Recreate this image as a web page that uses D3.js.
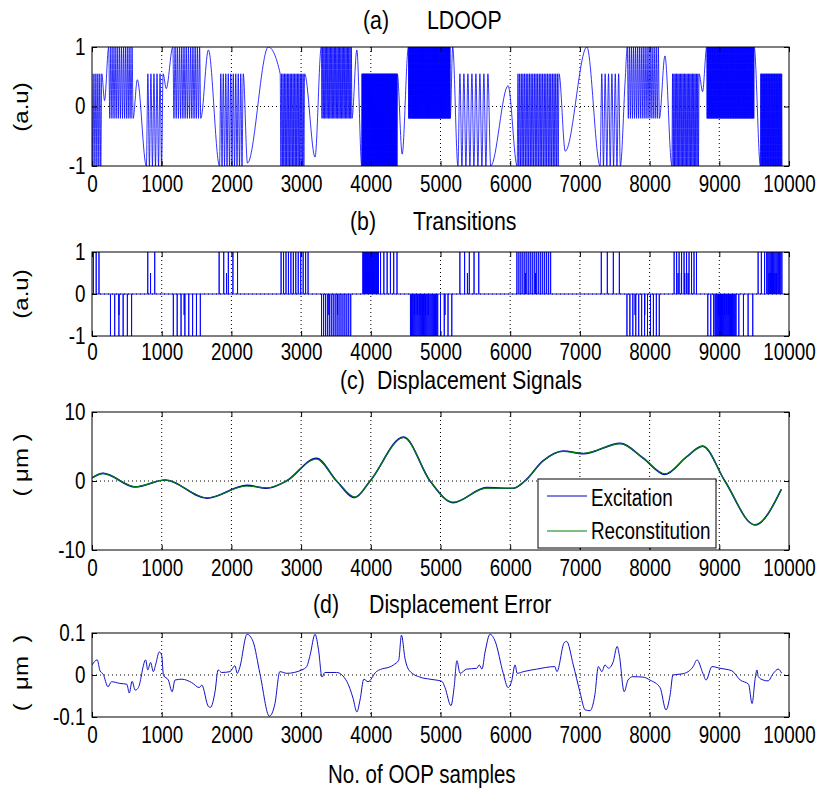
<!DOCTYPE html>
<html>
<head>
<meta charset="utf-8">
<script src="https://cdn.jsdelivr.net/npm/d3@7"></script>
<style>
  body { margin: 0; background: #fff; }
  text { font-family: "Liberation Sans", Arial, sans-serif; fill: #000; }
</style>
</head>
<body>
<svg id="fig" width="820" height="789"></svg>
<script>
// ---------- data ----------
const xTicks = [0, 1000, 2000, 3000, 4000, 5000, 6000, 7000, 8000, 9000, 10000];
const xGrid = [1000, 2000, 3000, 4000, 5000, 6000, 7000, 8000, 9000];

// (a) LDOOP: oscillation bursts [start, end, low, high, halfCycles, startsHigh]
const ldoopBursts = [
  [0, 140, -1, 0.55, 10, 1],
  [240, 590, -0.2, 1, 23, 1],
  [780, 1020, -1, 0.55, 11, 0],
  [1160, 1560, -0.2, 1, 25, 1],
  [1830, 2170, -1, 0.55, 19, 0],
  [2700, 3050, -1, 0.55, 34, 1],
  [3290, 3730, -0.2, 1, 47, 1],
  [3870, 4380, -1, 0.55, 141, 0],
  [4540, 5140, -0.2, 1, 161, 1],
  [5250, 5680, -1, 0.55, 15, 0],
  [6100, 6700, -1, 0.55, 51, 0],
  [7290, 7580, -1, 0.55, 12, 0],
  [7680, 8140, -0.2, 1, 31, 1],
  [8320, 8710, -1, 0.55, 41, 0],
  [8820, 9500, -0.2, 1, 150, 1],
  [9590, 9900, -1, 0.55, 60, 0]
];
// (a) LDOOP: slow swings between the bursts [sample, value]
const ldoopKnots = [
  [180, 0.1], [650, 0.45], [1065, 0.3], [1670, 0.95], [2230, -0.95], [2530, 1],
  [3200, -0.85], [3800, 0.95], [4450, -0.8], [5175, 1], [5720, -1], [5970, 0.35],
  [6790, -0.75], [7100, 1], [7650, 0.45], [8220, 0.85], [8760, 0.25]
];

// (b) Transitions: spike clusters [start, end, sign, fullSpikes, halfSpikes]
const transitionClusters = [
  [20, 100, 1, 3, 0], [800, 900, 1, 2, 1], [1824, 2088, 1, 5, 1], [2713, 3100, 1, 12, 0],
  [3886, 4110, 1, 24, 8], [4140, 4376, 1, 6, 0], [5278, 5549, 1, 5, 1], [6096, 6580, 1, 18, 2],
  [7307, 7566, 1, 4, 0], [8352, 8673, 1, 10, 4], [9557, 9650, 1, 3, 0], [9680, 9898, 1, 14, 6],
  [265, 568, -1, 6, 1], [1167, 1554, -1, 8, 1], [3293, 3712, -1, 16, 2],
  [4569, 4960, -1, 26, 6], [5000, 5162, -1, 4, 1], [7675, 8139, -1, 12, 2],
  [8835, 8920, -1, 3, 0], [8940, 9240, -1, 24, 6], [9280, 9480, -1, 4, 0]
];

// (c) Excitation displacement [sample, µm]
const excitation = [
  [0, 0.45], [160, 1.1], [620, -0.87], [1050, 0.14], [1650, -2.5], [2220, -0.63],
  [2510, -1.06], [2790, 0], [3220, 3.28], [3510, 0], [3770, -2.4], [3990, 0],
  [4470, 6.36], [4850, 0], [5180, -3.13], [5660, -0.96], [6040, -1.06], [6210, 0],
  [6470, 2.9], [6760, 4.34], [7050, 3.95], [7580, 5.45], [7910, 3.3], [8220, 0.96],
  [8530, 3.5], [8760, 5.06], [9080, 0], [9510, -6.36], [9890, -1.2]
];

// (d) Displacement error [sample, µm]
const dispError = [
  [0, 0.024], [75, 0.036], [115, 0.01], [160, 0.002], [230, -0.028], [280, -0.016], [400, -0.02],
  [500, -0.022], [535, -0.043], [575, -0.015], [620, -0.036], [665, -0.03], [770, 0.036],
  [800, 0.012], [840, 0.03], [880, 0.008], [915, 0.026], [965, 0.055], [1000, 0.047],
  [1025, -0.001], [1095, -0.012], [1150, -0.04], [1190, -0.012], [1290, -0.01], [1430, -0.018],
  [1540, -0.03], [1575, -0.024], [1670, -0.075], [1700, -0.077], [1765, -0.04], [1810, 0.012],
  [1860, 0.006], [1980, 0.008], [2050, 0.022], [2085, 0.004], [2120, 0.018], [2225, 0.097],
  [2310, 0.08], [2410, 0.003], [2545, -0.098], [2625, -0.068], [2695, 0.008], [2795, 0.004],
  [3010, 0.012], [3080, 0.02], [3130, 0.048], [3200, 0.097], [3250, 0.06], [3300, -0.005],
  [3340, 0.006], [3510, 0.006], [3655, -0.015], [3745, -0.055], [3800, -0.088], [3845, -0.06],
  [3900, -0.01], [3960, -0.016], [4080, 0.008], [4325, 0.024], [4400, 0.035], [4440, 0.095],
  [4490, 0.04], [4555, 0.01], [4705, -0.005], [4850, -0.01], [5020, -0.015], [5065, -0.03],
  [5150, -0.073], [5195, -0.03], [5235, 0.034], [5280, 0.004], [5375, 0.014], [5520, 0.016],
  [5555, 0.024], [5595, 0.014], [5640, 0.055], [5710, 0.097], [5785, 0.08], [5900, 0.004],
  [5970, -0.03], [6020, -0.015], [6070, 0.024], [6100, 0.004], [6190, 0.008], [6380, 0.014],
  [6640, 0.02], [6670, 0.008], [6775, 0.077], [6810, 0.08], [6905, 0.024], [7000, -0.04],
  [7075, -0.083], [7145, -0.085], [7215, -0.047], [7265, 0.02], [7315, 0.008], [7360, 0.024],
  [7410, 0.016], [7475, 0.03], [7535, 0.068], [7565, 0.048], [7635, -0.04], [7690, -0.012],
  [7760, -0.004], [7905, -0.005], [8005, -0.012], [8150, -0.03], [8235, -0.083], [8295, -0.047],
  [8335, 0], [8480, 0.003], [8625, 0.02], [8680, 0.036], [8765, 0.004], [8810, -0.012],
  [8895, 0.02], [9010, 0.016], [9180, 0.01], [9300, -0.012], [9420, -0.022], [9470, -0.068],
  [9515, -0.008], [9540, 0.012], [9560, -0.004], [9630, -0.012], [9700, -0.014], [9775, 0.004],
  [9845, 0.014], [9895, 0.004]
];

// ---------- layout ----------
const svg = d3.select("#fig");
const X0 = 92, X1 = 789;
const SX = 0.82;            // horizontal squeeze of all lettering
const TICK_FS = 23, TITLE_FS = 26, LABEL_FS = 24;
const BLUE = "#0000ff", GREEN = "#008000";

const x = d3.scaleLinear().domain([0, 10000]).range([X0, X1]);

function addText(g, px, py, str, size, anchor = "start", rotate = false) {
  return g.append("text")
    .attr("transform", `translate(${px},${py}) scale(${SX},1)` + (rotate ? " rotate(-90)" : ""))
    .attr("text-anchor", anchor)
    .attr("font-size", size)
    .style("white-space", "pre")
    .text(str);
}

function makePanel(top, bottom, yDomain) {
  const y = d3.scaleLinear().domain(yDomain).range([bottom, top]);
  const g = svg.append("g");
  const clipId = "clip" + top;
  svg.append("clipPath").attr("id", clipId)
    .append("rect").attr("x", X0).attr("y", top).attr("width", X1 - X0).attr("height", bottom - top);

  // dotted grid
  const grid = g.append("g").attr("stroke", "#000").attr("stroke-width", 1)
    .attr("stroke-dasharray", "1,3").attr("fill", "none");
  xGrid.forEach(v => grid.append("line").attr("x1", x(v)).attr("x2", x(v)).attr("y1", top).attr("y2", bottom));
  grid.append("line").attr("x1", X0).attr("x2", X1).attr("y1", y(0)).attr("y2", y(0));

  const plot = g.append("g").attr("clip-path", `url(#${clipId})`);
  const over = svg.append("g");
  return { g, plot, over, y, top, bottom };
}

function finishPanel(p, yTicks, pad = 10) {
  const fmt = d => String(d);
  const bot = p.over.append("g").attr("transform", `translate(0,${p.bottom})`)
    .call(d3.axisBottom(x).tickValues(xTicks).tickSize(-5).tickSizeOuter(0).tickPadding(pad).tickFormat(fmt));
  const topAx = p.over.append("g").attr("transform", `translate(0,${p.top})`)
    .call(d3.axisTop(x).tickValues(xTicks).tickSize(-5).tickSizeOuter(0).tickFormat(""));
  const left = p.over.append("g").attr("transform", `translate(${X0},0)`)
    .call(d3.axisLeft(p.y).tickValues(yTicks).tickSize(-5).tickSizeOuter(0).tickPadding(8).tickFormat(fmt));
  const right = p.over.append("g").attr("transform", `translate(${X1},0)`)
    .call(d3.axisRight(p.y).tickValues(yTicks).tickSize(-5).tickSizeOuter(0).tickFormat(""));
  [bot, topAx, left, right].forEach(a => {
    a.select(".domain").remove();
    a.attr("font-family", null).attr("font-size", null);
    a.selectAll("line").attr("stroke", "#000");
    a.selectAll("text").attr("font-size", TICK_FS).attr("fill", "#000");
  });
  bot.selectAll("text").attr("transform", `scale(${SX},1)`);
  left.selectAll("text").attr("transform", `scale(${SX},1)`);
  p.over.append("rect").attr("x", X0).attr("y", p.top).attr("width", X1 - X0)
    .attr("height", p.bottom - p.top).attr("fill", "none").attr("stroke", "#000").attr("stroke-width", 1);
}

// ---------- (a) LDOOP ----------
const pa = makePanel(47, 166, [-1, 1]);
const ldoopPts = ldoopKnots.map(d => [d[0], d[1]]);
ldoopBursts.forEach(([s, e, lo, hi, m, startHigh]) => {
  for (let i = 0; i <= m; i++) {
    const high = (i % 2 === 0) === (startHigh === 1);
    ldoopPts.push([s + (e - s) * i / m, high ? hi : lo]);
  }
});
ldoopPts.sort((a, b) => a[0] - b[0]);
pa.plot.append("path").datum(ldoopPts)
  .attr("fill", "none").attr("stroke", BLUE).attr("stroke-width", 0.8)
  .attr("d", d3.line().x(d => x(d[0])).y(d => pa.y(d[1])).curve(d3.curveMonotoneX));
finishPanel(pa, [-1, 0, 1]);
addText(svg, 363, 29, "(a)", TITLE_FS);
addText(svg, 427, 29, "LDOOP", TITLE_FS);
addText(svg, 28, 107, "(a.u)", LABEL_FS, "middle", true);

// ---------- (b) Transitions ----------
const pb = makePanel(252, 336, [-1, 1]);
const spikes = [];
transitionClusters.forEach(([s, e, sign, nFull, nHalf]) => {
  for (let i = 0; i < nFull; i++) spikes.push([nFull > 1 ? s + (e - s) * i / (nFull - 1) : s, sign]);
  for (let i = 0; i < nHalf; i++) spikes.push([s + (e - s) * (0.1 + 0.6 * (i + 0.5) / nHalf), sign * 0.5]);
});
spikes.sort((a, b) => a[0] - b[0]);
const spikePts = [[0, 0]];
spikes.forEach(([t, v]) => { spikePts.push([t, 0], [t, v], [t, 0]); });
spikePts.push([10000, 0]);
pb.plot.append("path").datum(spikePts)
  .attr("fill", "none").attr("stroke", BLUE).attr("stroke-width", 0.9)
  .attr("d", d3.line().x(d => x(d[0])).y(d => pb.y(d[1])));
finishPanel(pb, [-1, 0, 1], 8);
addText(svg, 350, 230, "(b)", TITLE_FS);
addText(svg, 413, 230, "Transitions", TITLE_FS);
addText(svg, 28, 294, "(a.u)", LABEL_FS, "middle", true);

// ---------- (c) Displacement Signals ----------
const pc = makePanel(412, 550, [-10, 10]);
const errAt = t => {
  const i = d3.bisector(d => d[0]).left(dispError, t);
  if (i <= 0) return dispError[0][1];
  if (i >= dispError.length) return dispError[dispError.length - 1][1];
  const [t0, v0] = dispError[i - 1], [t1, v1] = dispError[i];
  return v0 + (v1 - v0) * (t - t0) / (t1 - t0);
};
const reconstitution = excitation.map(([t, v]) => [t, v - errAt(t)]);
const lineC = d3.line().x(d => x(d[0])).y(d => pc.y(d[1])).curve(d3.curveMonotoneX);
pc.plot.append("path").datum(excitation)
  .attr("fill", "none").attr("stroke", "#0000c0").attr("stroke-width", 1.6).attr("d", lineC);
pc.plot.append("path").datum(reconstitution)
  .attr("fill", "none").attr("stroke", GREEN).attr("stroke-width", 1.1).attr("d", lineC);
finishPanel(pc, [-10, 0, 10]);
addText(svg, 340, 389, "(c)", TITLE_FS);
addText(svg, 377, 389, "Displacement Signals", TITLE_FS);
addText(svg, 28, 465, "( μm )", LABEL_FS, "middle", true);

// legend
const lg = svg.append("g");
lg.append("rect").attr("x", 538).attr("y", 479).attr("width", 178).attr("height", 69)
  .attr("fill", "#fff").attr("stroke", "#000").attr("stroke-width", 1);
const legendItems = [["Excitation", "#0000c0", 496, 506], ["Reconstitution", GREEN, 531, 539]];
legendItems.forEach(([name, col, ly, ty]) => {
  lg.append("line").attr("x1", 547).attr("x2", 587).attr("y1", ly).attr("y2", ly)
    .attr("stroke", col).attr("stroke-width", 1.1);
  addText(lg, 591, ty, name, TICK_FS);
});

// ---------- (d) Displacement Error ----------
const pd = makePanel(633, 717, [-0.1, 0.1]);
pd.plot.append("path").datum(dispError)
  .attr("fill", "none").attr("stroke", "#1010c8").attr("stroke-width", 1)
  .attr("d", d3.line().x(d => x(d[0])).y(d => pd.y(d[1])).curve(d3.curveMonotoneX));
finishPanel(pd, [-0.1, 0, 0.1]);
addText(svg, 313, 613, "(d)", TITLE_FS);
addText(svg, 369, 613, "Displacement Error", TITLE_FS);
addText(svg, 28, 673, "(  μm  )", LABEL_FS, "middle", true);

// x label
addText(svg, 328, 783, "No. of OOP samples", 25);
</script>
</body>
</html>
